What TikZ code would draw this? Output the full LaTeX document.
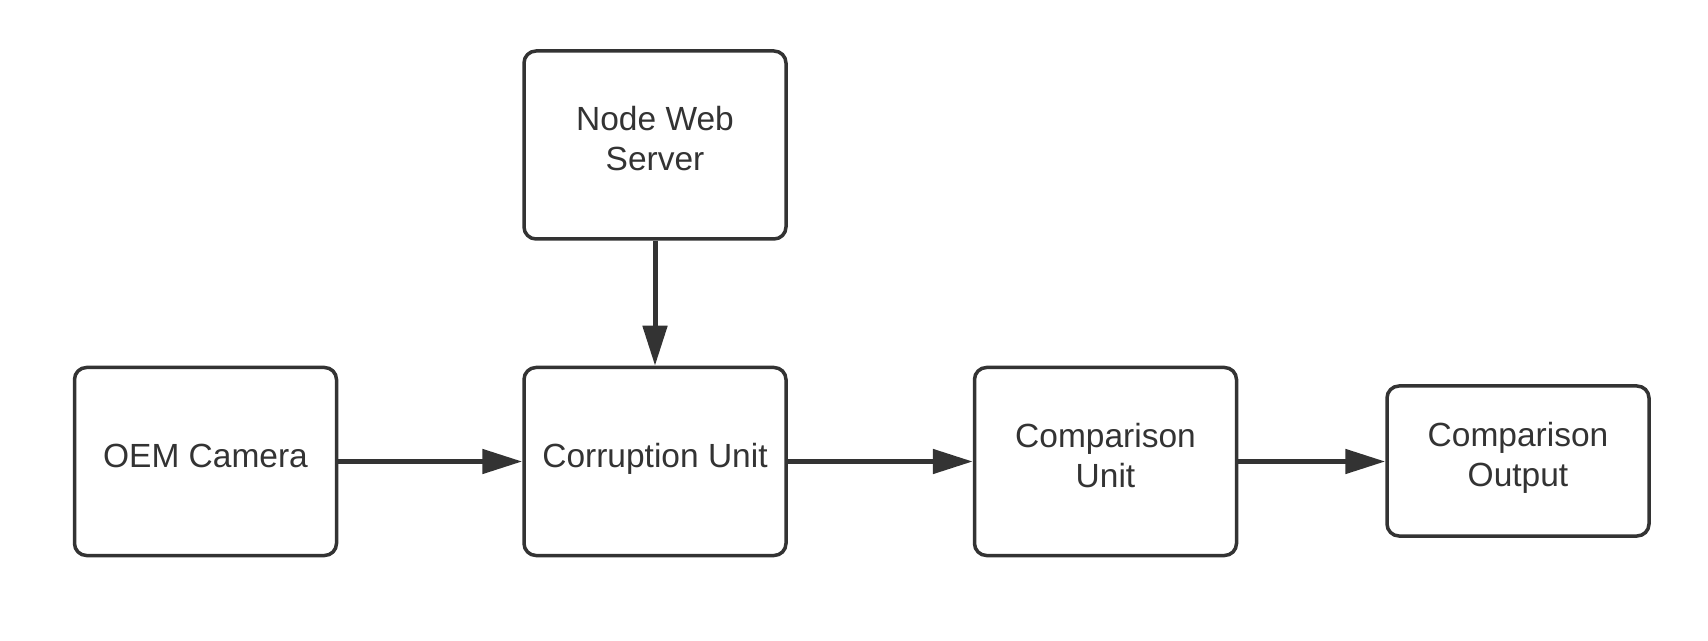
\documentclass[tikz,border=0pt]{standalone}
\usepackage{fontspec}
\setmainfont{Liberation Sans}
\usetikzlibrary{arrows.meta}
\definecolor{ink}{HTML}{333333}
\newcommand{\topstrut}{\rule{0pt}{14pt}}
\newcommand{\botstrut}{\rule[-8.2pt]{0pt}{8.2pt}}
\begin{document}
\begin{tikzpicture}[x=0.5pt,y=-0.5pt,
  box/.style={draw=ink, line width=1.75pt, rounded corners=6pt, minimum width=131pt,
    minimum height=94pt, inner sep=0pt, align=center, text=ink,
    font=\fontsize{16.75pt}{19.85pt}\selectfont},
  flow/.style={draw=ink, line width=2.5pt, -{Triangle[length=20pt,width=12pt]}}]
\useasboundingbox (0,0) rectangle (1708,641);
\node[box] (oem) at (205.5,461.5) {\topstrut OEM Camera\botstrut};
\node[box] (web) at (655,145) {\topstrut Node Web\\Server\botstrut};
\node[box] (cor) at (655,461.5) {\topstrut Corruption Unit\botstrut};
\node[box] (cmp) at (1105.5,461.5) {\topstrut Comparison\\Unit\botstrut};
\node[box, minimum height=75pt] (out) at (1518,461) {\topstrut Comparison\\Output\botstrut};
\draw[flow] (oem) -- (cor);
\draw[flow] (web) -- (cor);
\draw[flow] (cor) -- (cmp);
\draw[flow] (cmp.east) -- (out.west|-cmp.east);
\end{tikzpicture}
\end{document}
